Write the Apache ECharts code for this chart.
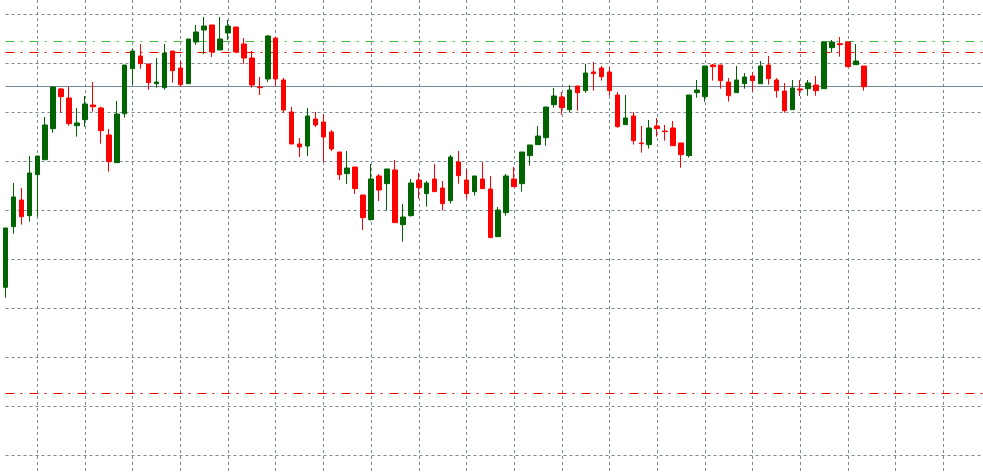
<!DOCTYPE html>
<html>
<head>
<meta charset="utf-8">
<script src="https://cdn.jsdelivr.net/npm/echarts@6/dist/echarts.min.js"></script>
<style>
html,body{margin:0;padding:0;background:#fff;}
#chart{width:983px;height:474px;}
</style>
</head>
<body>
<div id="chart"></div>
<script>
// OHLC values
const opens = [1844.32,1856.70,1862.14,1858.95,1867.31,1870.37,1876.70,1884.80,1882.96,1877.31,
1878.54,1881.53,1880.92,1875.41,1869.76,1879.76,1888.95,1891.53,1889.90,1885.88,
1885.07,1892.55,1889.08,1885.88,1894.39,1896.84,1897.86,1892.76,1896.22,1897.45,
1893.98,1891.12,1885.20,1886.84,1895.20,1886.63,1880.10,1873.57,1873.16,1878.67,
1878.06,1876.02,1871.94,1867.52,1868.88,1863.16,1858.13,1867.04,1865.48,1868.27,
1857.11,1858.95,1866.22,1863.44,1866.43,1864.59,1862.01,1869.90,1866.22,1863.84,
1866.43,1864.39,1854.66,1859.56,1866.43,1865.48,1871.19,1873.44,1874.86,1881.60,
1883.16,1880.58,1885.41,1884.46,1888.27,1889.08,1888.27,1883.57,1877.52,1879.29,
1873.78,1873.44,1877.25,1876.22,1876.84,1873.78,1871.19,1884.05,1883.23,1889.69,
1889.69,1886.22,1884.05,1885.88,1887.45,1885.88,1889.69,1886.63,1884.39,1880.58,
1884.80,1884.86,1885.61,1884.86,1893.23,1894.05,1894.39,1889.76,1889.49];
const closes = [1856.43,1862.76,1858.74,1867.65,1871.12,1877.45,1885.20,1883.23,1877.72,1877.86,
1881.73,1881.19,1876.29,1869.97,1879.69,1889.69,1892.55,1889.97,1886.09,1886.22,
1892.14,1888.54,1885.68,1895.00,1896.43,1897.65,1892.35,1895.00,1897.65,1892.35,
1891.12,1885.61,1885.07,1895.61,1886.84,1880.51,1873.57,1872.96,1879.29,1877.45,
1875.00,1872.55,1867.31,1868.67,1864.46,1858.54,1866.43,1864.18,1868.47,1857.52,
1858.67,1865.61,1864.66,1865.61,1863.84,1861.39,1870.92,1867.11,1863.44,1867.04,
1864.46,1854.46,1860.10,1867.04,1864.86,1871.94,1873.37,1875.20,1881.12,1883.37,
1880.99,1884.59,1884.05,1888.06,1887.93,1887.31,1884.46,1877.11,1878.88,1874.25,
1873.64,1876.84,1876.70,1876.09,1873.23,1871.39,1883.57,1884.59,1889.49,1889.35,
1886.50,1883.43,1886.63,1887.25,1886.50,1889.49,1886.91,1884.46,1880.37,1885.00,
1884.59,1886.02,1884.46,1894.39,1894.39,1893.84,1889.35,1890.51,1885.27];
const highs = [1856.43,1865.61,1864.59,1871.12,1871.12,1879.08,1885.20,1885.00,1885.20,1880.92,
1883.37,1886.22,1881.19,1876.63,1882.35,1889.69,1892.96,1893.98,1889.90,1891.12,
1893.98,1892.55,1890.51,1895.00,1897.86,1899.49,1897.86,1899.49,1898.88,1897.45,
1895.20,1892.55,1887.25,1895.82,1895.20,1887.04,1881.12,1874.80,1880.92,1880.10,
1879.69,1876.43,1871.94,1872.14,1868.88,1863.16,1869.49,1867.45,1868.47,1870.31,
1861.33,1866.43,1867.65,1866.02,1869.49,1866.02,1871.33,1872.14,1868.47,1867.04,
1869.90,1867.04,1860.71,1867.45,1868.88,1871.94,1873.37,1877.25,1881.12,1885.00,
1884.18,1885.61,1885.41,1889.90,1890.31,1889.49,1889.29,1884.18,1883.57,1880.10,
1877.25,1878.47,1878.88,1877.45,1878.27,1873.78,1883.57,1886.63,1889.49,1889.90,
1889.69,1887.04,1889.49,1888.06,1888.27,1890.51,1891.53,1887.04,1886.02,1886.63,
1886.63,1886.63,1887.45,1894.39,1894.80,1895.41,1894.39,1893.98,1889.49];
const lows = [1842.21,1855.27,1857.11,1857.72,1858.74,1870.37,1875.88,1879.97,1877.31,1875.07,
1877.11,1880.17,1873.64,1867.93,1869.76,1878.95,1885.68,1888.95,1884.66,1885.07,
1884.66,1886.09,1885.27,1885.88,1893.78,1891.94,1891.33,1892.76,1894.80,1892.14,
1889.90,1885.07,1883.57,1886.22,1885.41,1879.90,1873.57,1870.92,1871.12,1877.04,
1869.90,1872.14,1866.22,1865.41,1863.37,1856.02,1857.93,1861.94,1859.97,1857.52,
1853.64,1858.74,1862.42,1860.78,1863.84,1859.97,1861.39,1865.48,1862.42,1863.03,
1864.46,1854.46,1854.66,1858.95,1864.86,1863.84,1869.15,1873.44,1873.23,1880.99,
1879.56,1879.97,1880.37,1884.05,1884.46,1886.50,1883.43,1876.91,1877.52,1873.44,
1871.80,1872.62,1875.07,1874.25,1873.23,1868.74,1870.78,1883.03,1882.21,1886.50,
1884.86,1882.21,1884.05,1884.86,1884.25,1885.88,1885.68,1883.03,1879.97,1880.58,
1883.37,1883.43,1883.43,1884.86,1892.21,1891.39,1889.35,1889.76,1884.46];

// horizontal grid levels
const gridLevels = [1810, 1820, 1830, 1840, 1850, 1860, 1870, 1880, 1890, 1900];

// horizontal price levels drawn across the chart
const priceLine = 1885.31;
const greenLevel = 1894.49;
const redLevel = 1892.24;
const lowRedLevel = 1822.65;

// visible price range
const yMin = 1806.22, yMax = 1902.96;
const slotCount = 124;

const categories = Array.from({length: slotCount}, (_, i) => String(i));
const ohlc = opens.map((o, i) => [o, closes[i], lows[i], highs[i]]);

const chart = echarts.init(document.getElementById('chart'), null, {renderer: 'canvas'});
const gridColor = '#778899';
const dashDot = [9, 6, 2, 7];

const levelLines = gridLevels.map(v => ({yAxis: v, lineStyle: {color: gridColor, type: [3, 3], width: 1}}));

chart.setOption({
  animation: false,
  backgroundColor: '#ffffff',
  grid: {left: 5.5, top: 0, height: 474, width: 8 * (slotCount - 1), containLabel: false},
  xAxis: {
    type: 'category',
    data: categories,
    boundaryGap: false,
    axisLine: {show: false},
    axisTick: {show: false},
    axisLabel: {show: false},
    splitLine: {
      show: true,
      interval: (idx) => idx % 6 === 4,
      lineStyle: {color: gridColor, type: [3, 3], width: 1}
    }
  },
  yAxis: {
    type: 'value',
    min: yMin, max: yMax,
    axisLine: {show: false},
    axisTick: {show: false},
    axisLabel: {show: false},
    splitLine: {show: false}
  },
  series: [{
    type: 'candlestick',
    data: ohlc,
    clip: false,
    barWidth: 5,
    z: 3,
    itemStyle: {
      color: '#006400', color0: '#ff0000',
      borderColor: '#006400', borderColor0: '#ff0000',
      borderWidth: 1
    },
    markLine: {
      silent: true,
      symbol: ['none', 'none'],
      label: {show: false},
      animation: false,
      z: 1,
      data: levelLines.concat([
        {yAxis: priceLine, lineStyle: {color: '#778899', type: 'solid', width: 1}},
        {yAxis: greenLevel, lineStyle: {color: '#44bb44', type: dashDot, width: 1}},
        {yAxis: redLevel, lineStyle: {color: '#ff0000', type: dashDot, width: 1}},
        {yAxis: lowRedLevel, lineStyle: {color: '#ff0000', type: dashDot, width: 1}}
      ])
    }
  }]
});
</script>
</body>
</html>
